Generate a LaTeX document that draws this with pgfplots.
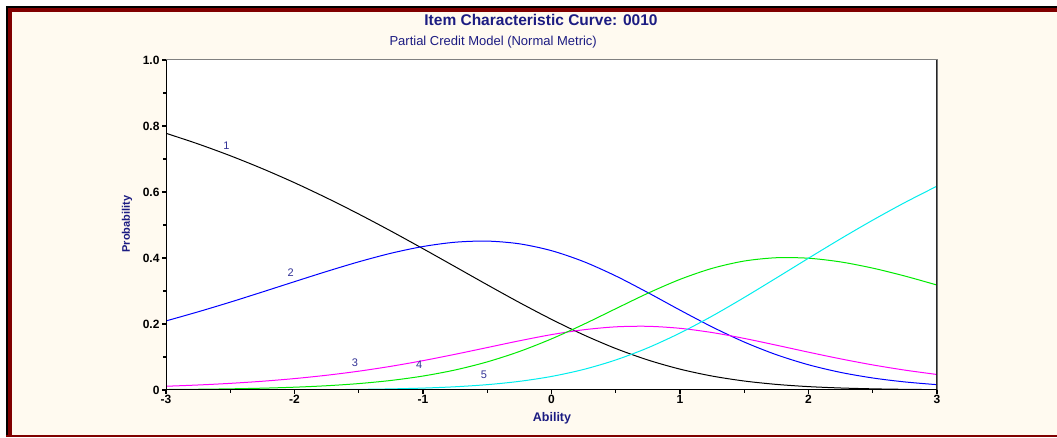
\documentclass[border=0pt]{standalone}
\usepackage{pgfplots}
\pgfplotsset{compat=1.18}
\usepackage{pgfplotstable}
\usepackage{fontspec}
\setmainfont{Liberation Sans}
\definecolor{cream}{RGB}{255,250,240}
\definecolor{frame}{RGB}{128,0,0}
\definecolor{navy}{RGB}{28,28,130}
\definecolor{lblue}{RGB}{50,50,150}
\definecolor{cblue}{RGB}{0,0,255}
\definecolor{cmag}{RGB}{255,0,255}
\definecolor{cgreen}{RGB}{0,235,0}
\definecolor{ccyan}{RGB}{0,238,238}
\pgfplotstableread{
theta p1 p2 p3 p4 p5
-3.00 0.7779 0.2093 0.01134 0.001429 0.000052
-2.75 0.7456 0.2369 0.01516 0.002253 0.000096
-2.50 0.7099 0.2662 0.02011 0.003531 0.000178
-2.25 0.6707 0.2970 0.02649 0.00549 0.000327
-2.00 0.6281 0.3283 0.03458 0.00846 0.000594
-1.75 0.5821 0.3592 0.04466 0.0129 0.00107
-1.50 0.5332 0.3884 0.0570 0.01944 0.0019
-1.25 0.4817 0.4143 0.07177 0.0289 0.00334
-1.00 0.4282 0.4348 0.08894 0.04228 0.00577
-0.75 0.3736 0.4478 0.1082 0.06067 0.00977
-0.50 0.3188 0.4512 0.1286 0.0852 0.0162
-0.25 0.2651 0.4430 0.1491 0.1166 0.02618
0.00 0.2141 0.4222 0.1678 0.1549 0.04106
0.25 0.1671 0.3891 0.1825 0.1990 0.06226
0.50 0.1257 0.3456 0.1914 0.2463 0.0910
0.75 0.0909 0.2951 0.1930 0.2932 0.1278
1.00 0.0632 0.2421 0.1869 0.3352 0.1726
1.25 0.04223 0.1911 0.1741 0.3686 0.2240
1.50 0.02721 0.1453 0.1563 0.3908 0.2804
1.75 0.01696 0.1069 0.1358 0.4008 0.3395
2.00 0.01027 0.07644 0.1146 0.3993 0.3993
2.25 0.00607 0.0533 0.09434 0.3881 0.4582
2.50 0.00351 0.0364 0.0760 0.3693 0.5147
2.75 0.00199 0.02441 0.06022 0.3453 0.5681
3.00 0.00112 0.01613 0.04698 0.3180 0.6177
}\icc
\begin{document}
\begin{tikzpicture}[x=1pt,y=1pt]
\fill[white] (0,0) rectangle (1057,438);
\fill[cream] (12,3) rectangle (1057,426);
\fill[black] (6,430) rectangle (1057,432);
\fill[frame] (8,426) rectangle (1057,430);
\fill[black] (6,1) rectangle (8,432);
\fill[frame] (8,1) rectangle (12,430);
\fill[frame] (6,1) rectangle (1057,3);
\node[font=\bfseries\fontsize{15.5}{17}\selectfont, text=navy] at (541,418) {Item Characteristic Curve: 0010};
\node[font=\fontsize{13}{15}\selectfont, text=navy, anchor=west] at (386,396) {Partial Credit Model (Normal Metric)};
\node[font=\bfseries\fontsize{11}{13}\selectfont, text=navy, rotate=90] at (127,214) {Probability};
\node[font=\bfseries\fontsize{12.5}{14}\selectfont, text=navy] at (552,20) {Ability};
\begin{axis}[
  at={(166pt,48pt)}, anchor=south west,
  scale only axis, width=771pt, height=330pt,
  xmin=-3, xmax=3, ymin=0, ymax=1,
  axis background/.style={fill=white},
  axis line style={draw=gray, line width=1pt},
  xtick={-3,-2,-1,0,1,2,3},
  xticklabels={-3,-2,-1,0,1,2,3},
  ytick={0,0.2,0.4,0.6,0.8,1},
  yticklabels={0,0.2,0.4,0.6,0.8,1.0},
  minor xtick={-2.5,-1.5,-0.5,0.5,1.5,2.5},
  minor ytick={0.1,0.3,0.5,0.7,0.9},
  tick align=outside,
  xtick pos=bottom, ytick pos=left,
  major tick length=4pt, minor tick length=3pt,
  every tick/.style={black, line width=1.2pt},
  ticklabel style={font=\bfseries\fontsize{12}{14}\selectfont, text=black},
  xticklabel style={yshift=2pt},
  yticklabel style={xshift=1pt},
  clip=true,
]
\addplot[black, line width=1pt, smooth] table[x=theta, y=p1] {\icc};
\addplot[cblue, line width=1pt, smooth] table[x=theta, y=p2] {\icc};
\addplot[cmag, line width=1pt, smooth] table[x=theta, y=p3] {\icc};
\addplot[cgreen, line width=1pt, smooth] table[x=theta, y=p4] {\icc};
\addplot[ccyan, line width=1pt, smooth] table[x=theta, y=p5] {\icc};
\draw[black!85, line width=1.2pt] (rel axis cs:1,0) -- (rel axis cs:1,1);
\draw[black, line width=2pt] (rel axis cs:0,1) -- (rel axis cs:0,0) -- (rel axis cs:1,0);
\node[text=lblue, font=\fontsize{11}{13}\selectfont] at (axis cs:-2.53,0.739) {1};
\node[text=lblue, font=\fontsize{11}{13}\selectfont] at (axis cs:-2.03,0.357) {2};
\node[text=lblue, font=\fontsize{11}{13}\selectfont] at (axis cs:-1.53,0.083) {3};
\node[text=lblue, font=\fontsize{11}{13}\selectfont] at (axis cs:-1.03,0.076) {4};
\node[text=lblue, font=\fontsize{11}{13}\selectfont] at (axis cs:-0.525,0.045) {5};
\end{axis}
\pgfresetboundingbox
\useasboundingbox (0,0) rectangle (1057,438);
\end{tikzpicture}
\end{document}
